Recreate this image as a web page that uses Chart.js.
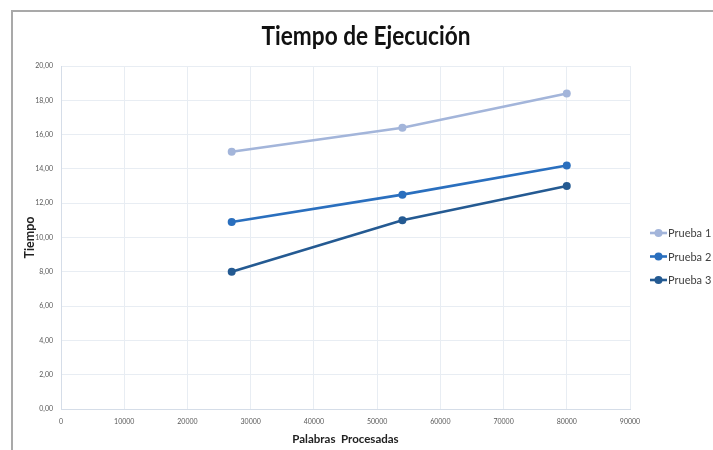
<!DOCTYPE html>
<html>
<head>
<meta charset="utf-8">
<script src="https://cdn.jsdelivr.net/npm/chart.js@4.4.1/dist/chart.umd.min.js"></script>
<style>
  html, body { margin: 0; padding: 0; background: #ffffff; }
  #wrap { position: relative; width: 713px; height: 450px; overflow: hidden; }
  #frame { position: absolute; left: 11px; top: 10px; right: -4px; bottom: -4px;
           border-top: 2px solid #a9a9a9; border-left: 2px solid #a9a9a9; pointer-events: none; }
  canvas { position: absolute; left: 0; top: 0; }
</style>
</head>
<body>
<div id="wrap">
  <canvas id="chart" width="713" height="450"></canvas>
  <div id="frame"></div>
</div>
<script>
// Palabras procesadas (eje X) y tiempos medidos por prueba
const palabras = [27000, 54000, 80000];
const prueba1 = [15.0, 16.4, 18.4];
const prueba2 = [10.9, 12.5, 14.2];
const prueba3 = [8.0, 11.0, 13.0];
const nombres = ['Prueba 1', 'Prueba 2', 'Prueba 3'];
const colores = ['#a3b5da', '#2a6fbe', '#245a92'];
const titulo = 'Tiempo de Ejecución';

const series = [prueba1, prueba2, prueba3];

const datasets = series.map((vals, i) => ({
  label: nombres[i],
  data: palabras.map((p, j) => ({ x: p, y: vals[j] })),
  borderColor: colores[i],
  backgroundColor: colores[i],
  borderWidth: 2.6,
  pointRadius: 4,
  pointHoverRadius: 4,
  pointBorderWidth: 0,
  tension: 0
}));

// Título centrado en el lienzo, con letra algo estrecha
const tituloPlugin = {
  id: 'tituloCentrado',
  afterDraw(chart) {
    const ctx = chart.ctx;
    ctx.save();
    ctx.font = 'bold 26px Lato, "Open Sans", sans-serif';
    ctx.fillStyle = '#111111';
    ctx.textAlign = 'center';
    ctx.textBaseline = 'alphabetic';
    ctx.translate(366, 45);
    ctx.scale(0.87, 1);
    ctx.fillText(titulo, 0, 0);
    ctx.restore();
  }
};

// Leyenda a la derecha: línea con marcador y texto
const leyenda = {
  id: 'leyendaDerecha',
  afterDraw(chart) {
    const ctx = chart.ctx;
    const x0 = 650, y0 = 233, dy = 23.5;
    ctx.save();
    ctx.font = '11px Lato, "Open Sans", sans-serif';
    ctx.textBaseline = 'middle';
    chart.data.datasets.forEach((ds, i) => {
      const y = y0 + i * dy;
      ctx.strokeStyle = ds.borderColor;
      ctx.lineWidth = 2.6;
      ctx.beginPath();
      ctx.moveTo(x0, y);
      ctx.lineTo(x0 + 17, y);
      ctx.stroke();
      ctx.fillStyle = ds.borderColor;
      ctx.beginPath();
      ctx.arc(x0 + 8.5, y, 4, 0, Math.PI * 2);
      ctx.fill();
      ctx.fillStyle = '#404040';
      ctx.fillText(ds.label, x0 + 18, y + 0.5);
    });
    ctx.restore();
  }
};

new Chart(document.getElementById('chart'), {
  type: 'line',
  data: { datasets },
  plugins: [tituloPlugin, leyenda],
  options: {
    responsive: false,
    animation: false,
    events: [],
    layout: { padding: { left: 0, right: 83, top: 66, bottom: 0 } },
    plugins: {
      legend: { display: false },
      tooltip: { enabled: false },
      title: { display: false }
    },
    scales: {
      x: {
        type: 'linear',
        min: 0,
        max: 90000,
        ticks: {
          stepSize: 10000,
          padding: 9,
          color: '#595959',
          font: { family: '"Liberation Sans Narrow", Lato, sans-serif', size: 7 },
          maxRotation: 0,
          callback: v => String(v)
        },
        grid: { color: '#e8edf3', lineWidth: 1, drawTicks: false },
        border: { color: '#d5dde8' },
        title: {
          display: true,
          text: 'Palabras  Procesadas',
          color: '#222222',
          font: { family: 'Lato, "Open Sans", sans-serif', size: 11.5, weight: 'bold' },
          padding: { top: 0, bottom: 4 }
        },
        afterFit: s => { s.height = 41; }
      },
      y: {
        min: 0,
        max: 20,
        ticks: {
          stepSize: 2,
          padding: 8,
          color: '#595959',
          font: { family: '"Liberation Sans Narrow", Lato, sans-serif', size: 7 },
          callback: v => v.toFixed(2).replace('.', ',')
        },
        grid: { color: '#e8edf3', lineWidth: 1, drawTicks: false },
        border: { color: '#d5dde8' },
        title: {
          display: true,
          text: 'Tiempo',
          color: '#222222',
          font: { family: 'Lato, "Open Sans", sans-serif', size: 12.5, weight: 'bold' },
          padding: { top: 22, bottom: 0 }
        },
        afterFit: s => { s.width = 61; }
      }
    }
  }
});
</script>
</body>
</html>
